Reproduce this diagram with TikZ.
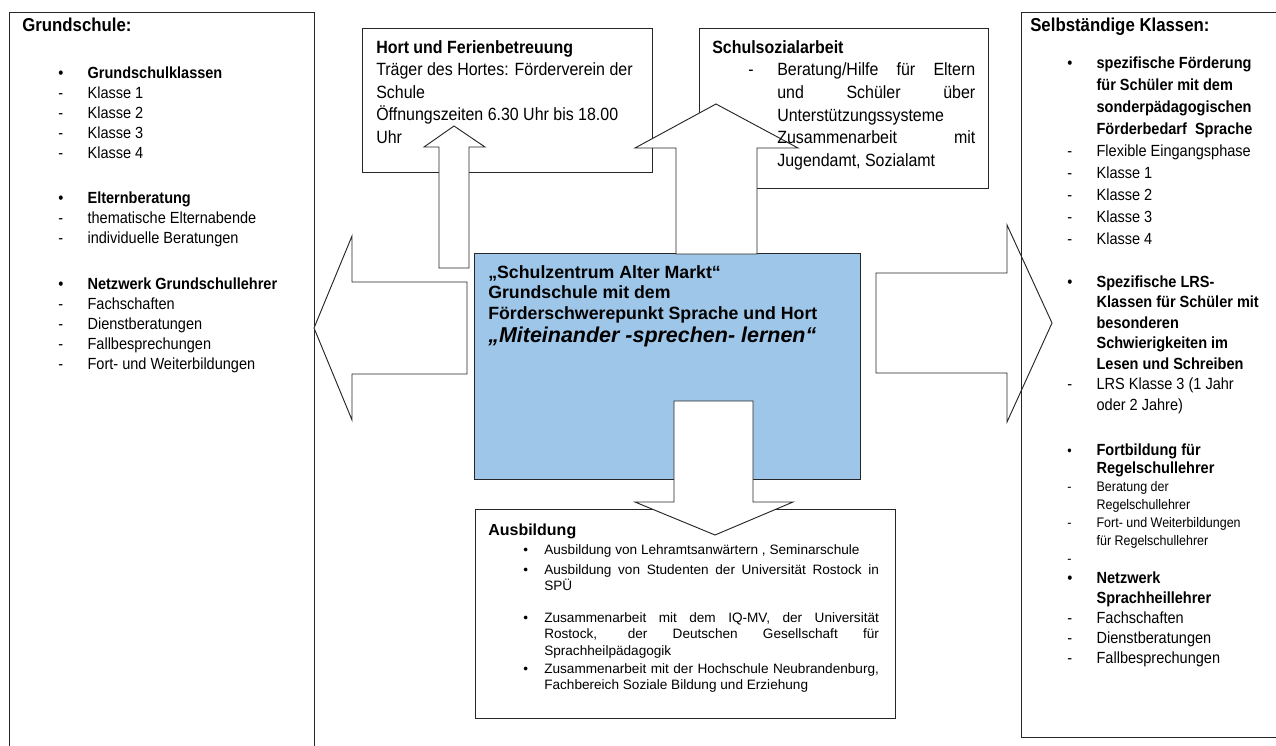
\documentclass[tikz,border=0pt]{standalone}
\usepackage{fontspec}
\setmainfont{Liberation Sans}[FakeStretch=0.9]
\newfontfamily\widefont{Liberation Sans}
\definecolor{zblue}{RGB}{158,198,233}
\newcommand{\lstf}{\fontsize{12.1}{15}\selectfont}
\newcommand{\rgtf}{\fontsize{12.1}{15.4}\selectfont}
\newcommand{\smlf}{\fontsize{10.4}{13.5}\selectfont}
\newcommand{\hrtf}{\fontsize{13.3}{16.9}\selectfont}
\newcommand{\ausf}{\widefont\fontsize{10.2}{12.2}\selectfont}
\newcommand{\hd}[1]{{\fontsize{12.1}{13.5}\selectfont\bfseries #1}}

\begin{document}
\begin{tikzpicture}[
    x=0.75pt, y=-0.75pt,
    box/.style={draw=black!85, line width=0.7pt, inner sep=0, anchor=north west},
    blockarr/.style={draw=black!85, line width=0.7pt, fill=white},
    txt/.style={inner sep=0, anchor=base west}
  ]
  \useasboundingbox (0,0) rectangle (1276,745);

  % boxes
  \node[box, minimum width=228.75pt, minimum height=570pt] (gs) at (9,12) {};
  \node[box, minimum width=217.5pt, minimum height=108pt] (hort) at (362,28) {};
  \node[box, minimum width=216.75pt, minimum height=120pt] (sozial) at (699,28) {};
  \node[box, fill=zblue, minimum width=289.5pt, minimum height=169.5pt] (zentrum) at (474,253) {};
  \node[box, minimum width=315pt, minimum height=156.75pt] (ausb) at (475,509) {};

  % block arrows
  \draw[blockarr] (467,282) -- (352,282) -- (352,236) -- (314,328) -- (352,420) -- (352,374) -- (467,374) -- cycle;
  \draw[blockarr] (876,273) -- (1007,273) -- (1007,225) -- (1052,323) -- (1007,422) -- (1007,373) -- (876,373) -- cycle;
  \draw[blockarr] (439,268) -- (439,147) -- (424,147) -- (454,126) -- (485,147) -- (469,147) -- (469,268) -- cycle;
  \draw[blockarr] (676,254) -- (676,148) -- (635,148) -- (716,104) -- (798,148) -- (757,148) -- (757,254) -- cycle;
  \draw[blockarr] (674,401) -- (753,401) -- (753,502) -- (793,502) -- (715,535) -- (635,502) -- (674,502) -- cycle;

  \node[box, minimum width=210pt, minimum height=543.75pt] (sk) at (1021,12) {};

  % Grundschule
  \node[txt] (gsT) at (22,32) {\fontsize{14}{16}\selectfont\bfseries Grundschule:};
  \node[txt] (gsA) at (58,79) {\lstf\begin{tabular}[t]{@{}p{22pt}@{}l@{}}
    \textbullet & \textbf{Grundschulklassen}\\
    - & Klasse 1\\ - & Klasse 2\\ - & Klasse 3\\ - & Klasse 4
  \end{tabular}};
  \node[txt] (gsB) at (58,204) {\lstf\begin{tabular}[t]{@{}p{22pt}@{}l@{}}
    \textbullet & \textbf{Elternberatung}\\
    - & thematische Elternabende\\ - & individuelle Beratungen
  \end{tabular}};
  \node[txt] (gsC) at (58,289) {\lstf\begin{tabular}[t]{@{}p{22pt}@{}l@{}}
    \textbullet & \textbf{Netzwerk Grundschullehrer}\\
    - & Fachschaften\\ - & Dienstberatungen\\ - & Fallbesprechungen\\
    - & Fort- und Weiterbildungen
  \end{tabular}};

  % Hort
  \node[txt] (hortT) at (376,53.4) {\hrtf\begin{tabular}[t]{@{}l@{}}
    \textbf{Hort und Ferienbetreuung}\\
    Träger des Hortes: Förderverein der\\ Schule\\
    Öffnungszeiten 6.30 Uhr bis 18.00\\ Uhr
  \end{tabular}};

  % Schulsozialarbeit
  \node[txt] (sozialT) at (712,53.4) {\hrtf\bfseries Schulsozialarbeit};
  \node[txt] (sozialL) at (748,76) {\hrtf\begin{tabular}[t]{@{}p{21.75pt}@{}l@{}}
    - & \makebox[148.5pt][s]{Beratung/Hilfe für Eltern}\\
      & \makebox[148.5pt][s]{und Schüler über}\\
      & Unterstützungssysteme\\
      & \makebox[148.5pt][s]{Zusammenarbeit mit}\\
      & Jugendamt, Sozialamt
  \end{tabular}};

  % Schulzentrum
  \node[txt] (zentrumT) at (488,278) {\widefont\bfseries\fontsize{13.3}{15.4}\selectfont
    \begin{tabular}[t]{@{}l@{}}
    „Schulzentrum Alter Markt“\\ Grundschule mit dem\\
    Förderschwerepunkt Sprache und Hort
  \end{tabular}};
  \node[txt] (motto) at (488,342.5) {\widefont\bfseries\itshape\fontsize{16.1}{19}\selectfont
    „Miteinander -sprechen- lernen“};

  % Ausbildung
  \node[txt] (ausbT) at (488,535.5) {\widefont\bfseries\fontsize{12}{14}\selectfont Ausbildung};
  \node[txt] (ausbL) at (523,554) {\ausf\begin{tabular}[t]{@{}p{15.75pt}@{}l@{}}
    \textbullet & Ausbildung von Lehramtsanwärtern , Seminarschule\\[2.8pt]
    \textbullet & \makebox[251pt][s]{Ausbildung von Studenten der Universität Rostock in}\\
      & SPÜ\\[11.8pt]
    \textbullet & \makebox[251pt][s]{Zusammenarbeit mit dem IQ-MV, der Universität}\\
      & \makebox[251pt][s]{Rostock, der Deutschen Gesellschaft für}\\[0.5pt]
      & Sprachheilpädagogik\\[1.3pt]
    \textbullet & \makebox[251pt][s]{Zusammenarbeit mit der Hochschule Neubrandenburg,}\\
      & Fachbereich Soziale Bildung und Erziehung
  \end{tabular}};

  % Selbstaendige Klassen
  \node[txt] (skT) at (1030,32) {\fontsize{14}{16}\selectfont\bfseries Selbständige Klassen:};
  \node[txt] (skA) at (1067,69) {\fontsize{12.1}{16.5}\selectfont\begin{tabular}[t]{@{}p{22pt}@{}l@{}}
    \textbullet & \textbf{spezifische Förderung}\\
      & \textbf{für Schüler mit dem}\\
      & \textbf{sonderpädagogischen}\\
      & \textbf{Förderbedarf\ \ Sprache}\\
    - & Flexible Eingangsphase\\
    - & Klasse 1\\ - & Klasse 2\\ - & Klasse 3\\ - & Klasse 4
  \end{tabular}};
  \node[txt] (skB) at (1067,287) {\rgtf\begin{tabular}[t]{@{}p{22pt}@{}l@{}}
    \textbullet & \textbf{Spezifische LRS-}\\
      & \textbf{Klassen für Schüler mit}\\
      & \textbf{besonderen}\\
      & \textbf{Schwierigkeiten im}\\
      & \textbf{Lesen und Schreiben}\\
    - & LRS Klasse 3 (1 Jahr\\
      & oder 2 Jahre)
  \end{tabular}};
  \node[txt] (skC) at (1067,455) {\smlf\begin{tabular}[t]{@{}p{22pt}@{}l@{}}
    \textbullet & \hd{Fortbildung für}\\
      & \hd{Regelschullehrer}\\
    - & Beratung der\\
      & Regelschullehrer\\
    - & Fort- und Weiterbildungen\\
      & für Regelschullehrer\\
    - &
  \end{tabular}};
  \node[txt] (skD) at (1067,583) {\lstf\begin{tabular}[t]{@{}p{22pt}@{}l@{}}
    \textbullet & \textbf{Netzwerk}\\
      & \textbf{Sprachheillehrer}\\
    - & Fachschaften\\ - & Dienstberatungen\\ - & Fallbesprechungen
  \end{tabular}};
\end{tikzpicture}
\end{document}
